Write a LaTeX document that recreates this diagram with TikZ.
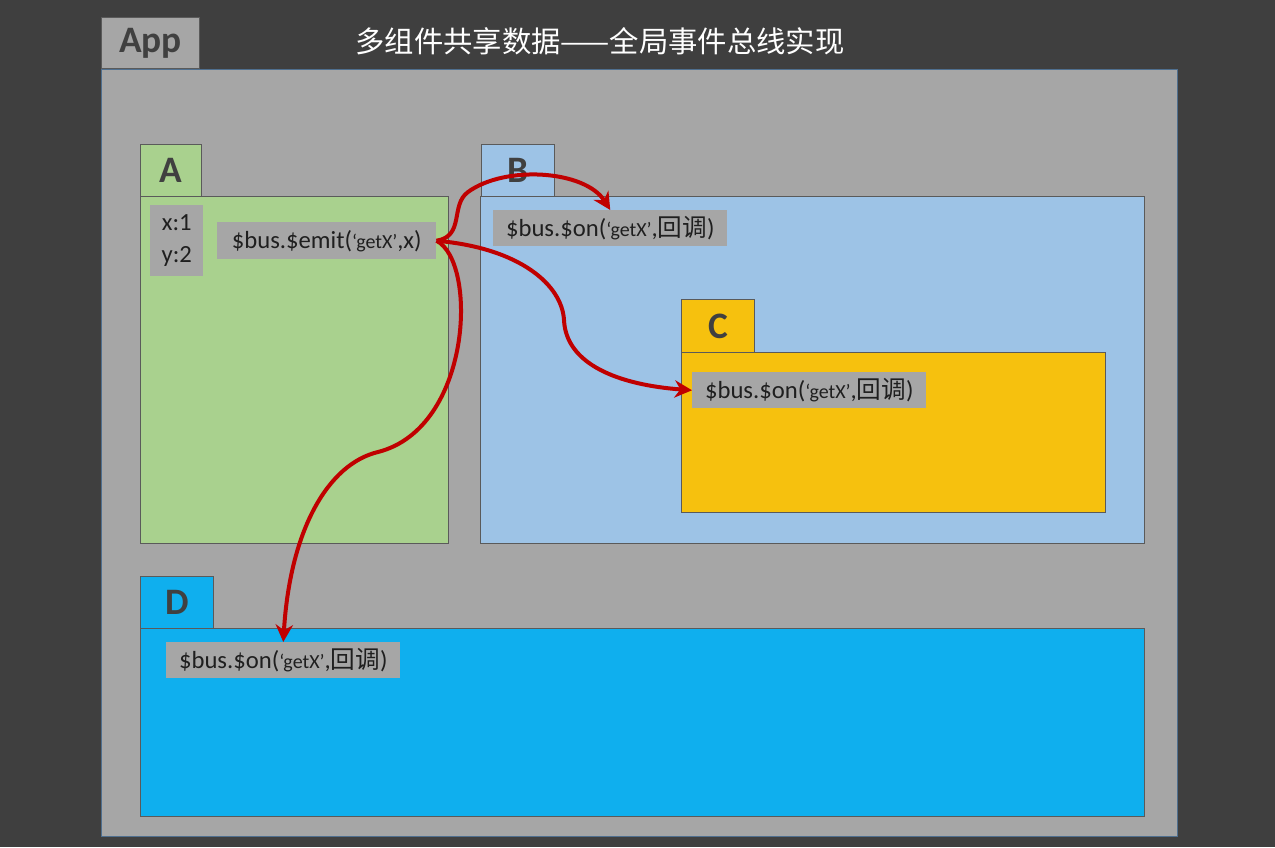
\documentclass[tikz,border=0pt]{standalone}
\usepackage{fontspec}
\setmainfont{Carlito}
\newfontfamily\cjk{Noto Sans CJK SC}
\usetikzlibrary{positioning,arrows.meta}
\definecolor{bgdark}{HTML}{3F3F3F}
\definecolor{appgray}{HTML}{A6A6A6}
\definecolor{appedge}{HTML}{4F6F8F}
\definecolor{agreen}{HTML}{A9D18E}
\definecolor{bblue}{HTML}{9DC3E6}
\definecolor{cyellow}{HTML}{F6C10E}
\definecolor{dblue}{HTML}{0FAFEE}
\definecolor{busred}{HTML}{C00000}
\definecolor{edgegray}{HTML}{5A5A5A}
\definecolor{tabtext}{HTML}{404040}
\newcommand{\getx}{{\fontsize{15}{15}\selectfont ‘getX’}}
\newcommand{\cb}{{\cjk 回调}}

\begin{document}
\begin{tikzpicture}[
    x=0.75pt, y=-0.75pt,
    size/.style 2 args={minimum width=#1*0.75pt, minimum height=#2*0.75pt},
    panel/.style={rectangle, draw=edgegray, line width=0.75pt,
        anchor=north west, inner sep=0pt},
    tab/.style={panel, font=\fontsize{28}{28}\selectfont\bfseries,
        text=tabtext},
    call/.style={rectangle, anchor=north west, fill=appgray, inner sep=0pt,
        font=\fontsize{18.5}{24}\selectfont, text=black!88},
    bus/.style={-{Stealth[length=13pt, width=13pt]}, line width=3pt,
        draw=busred}
]
\useasboundingbox[fill=bgdark] (0,0) rectangle (1275,847);

% App
\node[tab, fill=appgray, size={98}{51}] (apptab) at (101,17) {App};
\node[panel, draw=appedge, fill=appgray, size={1076}{767}] (app) at (101,69) {};
\node[font=\cjk\fontsize{22}{22}\selectfont, text=white] (title) at (600,41)
    {多组件共享数据——全局事件总线实现};

% Component A
\node[tab, fill=agreen, size={61}{52}] (atab) at (140,144) {A};
\node[panel, fill=agreen, size={308}{347}] (abody) at (140,196) {};
\node[call, size={53}{71}, align=center] (data) at (150,205) {x:1\\y:2};
\node[call, size={219}{37}] (emit) at (217,222) {\$bus.\$emit(\getx,x)};

% Component B
\node[tab, fill=bblue, size={73}{52}] (btab) at (481,144) {B};
\node[panel, fill=bblue, size={664}{347}] (bbody) at (480,196) {};
\node[call, size={234}{36}] (bon) at (493,210) {\$bus.\$on(\getx,\cb)};

% Component C
\node[tab, fill=cyellow, size={73}{53}] (ctab) at (681,299) {C};
\node[panel, fill=cyellow, size={424}{160}] (cbody) at (681,352) {};
\node[call, size={234}{36}] (con) at (692,372) {\$bus.\$on(\getx,\cb)};

% Component D
\node[tab, fill=dblue, size={73}{52}] (dtab) at (140,576) {D};
\node[panel, fill=dblue, size={1004}{188}] (dbody) at (140,628) {};
\node[call, size={234}{36}] (don) at (166,642) {\$bus.\$on(\getx,\cb)};

% Event bus arrows
\draw[bus] (emit.east) .. controls (465,236) and (450,205) .. (468,192)
    .. controls (505,165) and (585,170) .. (bon.north);
\draw[bus] (emit.east) .. controls (520,248) and (562,285) .. (564,320)
    .. controls (566,365) and (620,385) .. (con.west);
\draw[bus] (emit.east) .. controls (478,262) and (472,428) .. (378,452)
    .. controls (328,464) and (290,530) .. (don.north);

\end{tikzpicture}
\end{document}
